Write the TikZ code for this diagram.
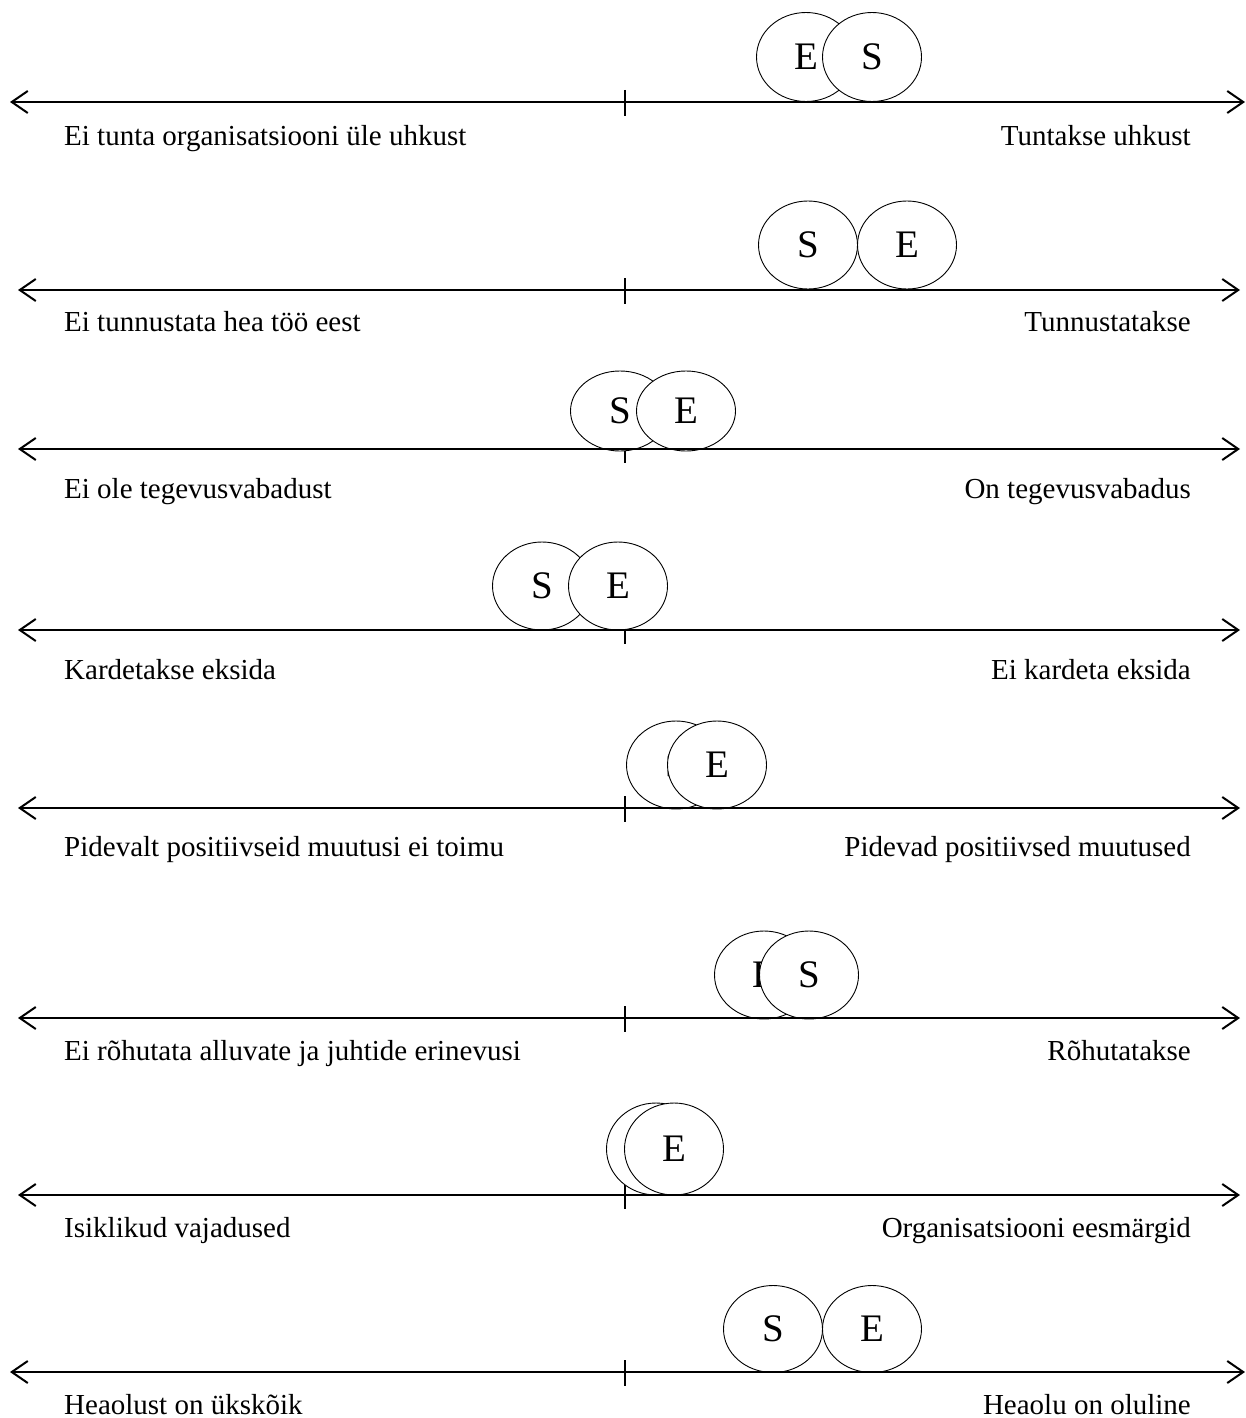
\documentclass[tikz,border=0pt]{standalone}
\usepackage{fontspec}
\setmainfont{Liberation Serif}
\usetikzlibrary{arrows.meta, shapes.geometric}
\tikzset{
  scaleline/.style={line width=2pt,
    {Straight Barb[length=16pt, width=22pt]}-{Straight Barb[length=16pt, width=22pt]}},
  midtick/.style={line width=1.5pt},
  bubble/.style={ellipse, draw, fill=white, line width=0.9pt, inner sep=0pt,
    minimum width=99pt, font=\fontsize{39}{39}\selectfont},
  endlabel/.style={inner sep=0pt, font=\fontsize{29}{29}\selectfont}
}

\begin{document}
\begin{tikzpicture}[x=1pt, y=-1pt]
  \useasboundingbox (0,0) rectangle (1246,1418);
  % scales: ends, middle tick and end labels
  \foreach \y/\lx/\rx/\lb/\ll/\rl [count=\i] in
    {102/10/1245/44/Ei tunta organisatsiooni üle uhkust/Tuntakse uhkust,
     290/18/1240/41/Ei tunnustata hea töö eest/Tunnustatakse,
     449/18/1240/49/Ei ole tegevusvabadust/On tegevusvabadus,
     630/18/1240/49/Kardetakse eksida/Ei kardeta eksida,
     808/18/1240/48/Pidevalt positiivseid muutusi ei toimu/Pidevad positiivsed muutused,
     1018/18/1240/42/Ei rõhutata alluvate ja juhtide erinevusi/Rõhutatakse,
     1195/18/1240/42/Isiklikud vajadused/Organisatsiooni eesmärgid,
     1372/10/1245/42/Heaolust on ükskõik/Heaolu on oluline}
  {
    \coordinate (l\i) at (\lx,\y);
    \coordinate (r\i) at (\rx,\y);
    \coordinate (t\i) at (625,\y);
    \draw[midtick] ([yshift=12pt]t\i) -- ([yshift=-14pt]t\i);
    \node[endlabel, anchor=base west] (ll\i) at (64,\y+\lb) {\ll};
    \node[endlabel, anchor=base east] (rl\i) at (1191,\y+\lb) {\rl};
  }
  % S and E bubbles, back one first
  \foreach \cy/\h/\bx/\bl/\fx/\fl [count=\i] in
    {57/89/806/E/872/S, 245/88/808/S/907/E, 411/80/620/S/686/E, 586/88/542/S/618/E,
     765/88/676/S/717/E, 975/88/764/E/809/S, 1149/92/656/S/674/E, 1329/87/773/S/872/E}
  {
    \node[bubble, minimum height=\h pt] (b\i) at (\bx,\cy) {\bl};
    \node[bubble, minimum height=\h pt] (f\i) at (\fx,\cy) {\fl};
  }
  \foreach \i in {1,...,8}
    \draw[scaleline] (l\i) -- (r\i);
\end{tikzpicture}
\end{document}
